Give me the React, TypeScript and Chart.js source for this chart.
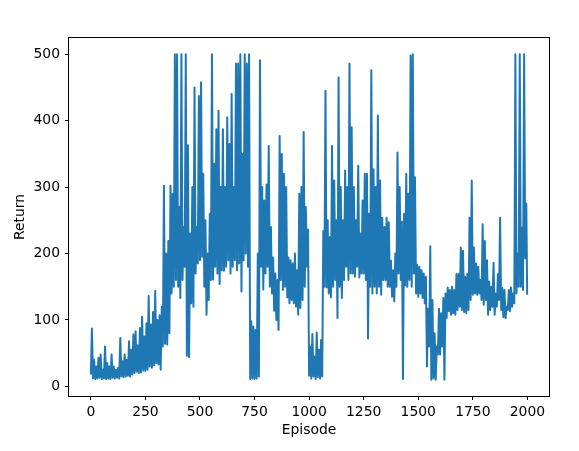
import React, { useEffect, useRef } from "react";
import { Chart, registerables } from "chart.js";

Chart.register(...registerables);

// Return per episode, sampled every 5 episodes (last value is episode 1999)
const EPISODE_STEP = 5;
const LAST_EPISODE = 1999;
const returns = [
  18, 87, 12, 40, 11, 30, 12, 43, 13, 48,
  11, 25, 12, 60, 11, 35, 12, 30, 11, 48,
  13, 30, 12, 25, 13, 28, 12, 73, 15, 38,
  14, 48, 15, 40, 16, 68, 15, 55, 18, 78,
  20, 83, 22, 62, 20, 88, 21, 105, 24, 75,
  23, 95, 25, 136, 30, 93, 28, 112, 32, 144,
  35, 100, 33, 107, 25, 120, 60, 302, 64, 200,
  63, 219, 80, 302, 140, 290, 150, 500, 160, 500,
  150, 270, 133, 500, 160, 240, 180, 500, 46, 363,
  44, 230, 125, 300, 120, 450, 170, 240, 185, 437,
  190, 458, 195, 320, 150, 250, 108, 200, 130, 260,
  160, 500, 161, 335, 180, 387, 170, 415, 154, 300,
  175, 387, 174, 300, 180, 405, 190, 365, 170, 440,
  180, 300, 190, 486, 175, 486, 185, 500, 143, 350,
  190, 500, 200, 486, 180, 500, 11, 98, 12, 90,
  11, 85, 12, 200, 15, 491, 180, 300, 146, 280,
  170, 304, 180, 362, 150, 240, 140, 194, 114, 170,
  100, 160, 85, 377, 160, 350, 145, 320, 150, 300,
  134, 194, 125, 190, 130, 185, 125, 200, 120, 175,
  108, 290, 118, 300, 130, 383, 150, 270, 180, 236,
  16, 60, 12, 79, 15, 45, 11, 81, 14, 55,
  12, 70, 15, 234, 150, 445, 149, 250, 140, 225,
  134, 362, 150, 310, 160, 250, 103, 465, 150, 300,
  133, 250, 160, 325, 180, 300, 160, 486, 170, 390,
  170, 300, 165, 250, 180, 332, 164, 230, 170, 280,
  170, 320, 160, 320, 72, 260, 150, 476, 140, 327,
  150, 300, 140, 408, 150, 310, 138, 254, 160, 240,
  160, 254, 150, 247, 150, 189, 135, 175, 128, 200,
  150, 352, 170, 300, 160, 248, 11, 260, 152, 320,
  150, 290, 160, 498, 150, 500, 170, 315, 140, 183,
  135, 180, 140, 175, 133, 170, 125, 165, 30, 117,
  60, 211, 10, 130, 12, 80, 10, 60, 48, 117,
  48, 110, 60, 133, 10, 140, 103, 149, 113, 145,
  108, 150, 110, 145, 108, 169, 115, 169, 120, 209,
  115, 204, 112, 165, 110, 169, 115, 254, 130, 310,
  138, 209, 140, 185, 138, 180, 140, 160, 130, 244,
  123, 219, 130, 190, 108, 158, 115, 150, 120, 186,
  108, 140, 120, 169, 130, 254, 115, 148, 104, 145,
  103, 120, 115, 145, 113, 149, 120, 140, 125, 500,
  140, 200, 150, 500, 150, 239, 145, 500, 193, 275,
  138,
];

const xTicks = [0, 250, 500, 750, 1000, 1250, 1500, 1750, 2000];
const yTicks = [0, 100, 200, 300, 400, 500];
const xLabel = "Episode";
const yLabel = "Return";

const FONT = { family: "'DejaVu Sans', sans-serif", size: 13.9 };

const framePlugin = {
  id: "frame",
  afterDatasetsDraw(chart: any) {
    const { ctx, chartArea } = chart;
    ctx.save();
    ctx.strokeStyle = "#000";
    ctx.lineWidth = 1;
    const l = Math.round(chartArea.left) - 0.5;
    const t = Math.round(chartArea.top) - 0.5;
    const r = Math.round(chartArea.right) + 0.5;
    const b = Math.round(chartArea.bottom) + 0.5;
    ctx.strokeRect(l, t, r - l, b - t);
    ctx.restore();
  },
};

export default function App() {
  const ref = useRef<HTMLCanvasElement | null>(null);
  useEffect(() => {
    if (!ref.current) return;
    const points = returns.map((v, i) => ({
      x: Math.min(i * EPISODE_STEP, LAST_EPISODE),
      y: v,
    }));
    const chart = new Chart(ref.current, {
      type: "line",
      data: {
        datasets: [
          {
            data: points,
            borderColor: "#1f77b4",
            borderWidth: 2,
            pointRadius: 0,
            tension: 0,
            borderJoinStyle: "round",
            fill: false,
          },
        ],
      },
      plugins: [framePlugin],
      options: {
        animation: false,
        responsive: false,
        devicePixelRatio: 1,
        layout: { padding: { top: 38, right: 30, left: 0, bottom: 0 } },
        plugins: { legend: { display: false }, tooltip: { enabled: false } },
        scales: {
          x: {
            type: "linear",
            min: -100,
            max: 2099,
            afterBuildTicks: (s: any) => {
              s.ticks = xTicks.map((v) => ({ value: v }));
            },
            afterFit: (s: any) => {
              s.height = 55;
            },
            ticks: {
              autoSkip: false,
              maxRotation: 0,
              padding: 4,
              color: "#000",
              font: FONT,
              callback: (v: any) => String(v),
            },
            grid: {
              display: true,
              drawOnChartArea: false,
              drawTicks: true,
              tickLength: 4,
              color: "#000",
              lineWidth: 1,
            },
            border: { display: false },
            title: {
              display: true,
              text: xLabel,
              color: "#000",
              font: FONT,
              padding: { top: 0, bottom: 12 },
            },
          },
          y: {
            type: "linear",
            min: -14.5,
            max: 524.5,
            afterBuildTicks: (s: any) => {
              s.ticks = yTicks.map((v) => ({ value: v }));
            },
            afterFit: (s: any) => {
              s.width = 69;
            },
            ticks: {
              autoSkip: false,
              padding: 5,
              color: "#000",
              font: FONT,
              callback: (v: any) => String(v),
            },
            grid: {
              display: true,
              drawOnChartArea: false,
              drawTicks: true,
              tickLength: 4,
              color: "#000",
              lineWidth: 1,
            },
            border: { display: false },
            title: {
              display: true,
              text: yLabel,
              color: "#000",
              font: FONT,
              padding: { top: 12, bottom: 0 },
            },
          },
        },
      },
    });
    return () => chart.destroy();
  }, []);
  return (
    <div style={{ position: "fixed", left: 0, top: 0, width: 579, height: 451, background: "#fff" }}>
      <canvas ref={ref} width={579} height={451} style={{ width: 579, height: 451, display: "block" }} />
    </div>
  );
}
